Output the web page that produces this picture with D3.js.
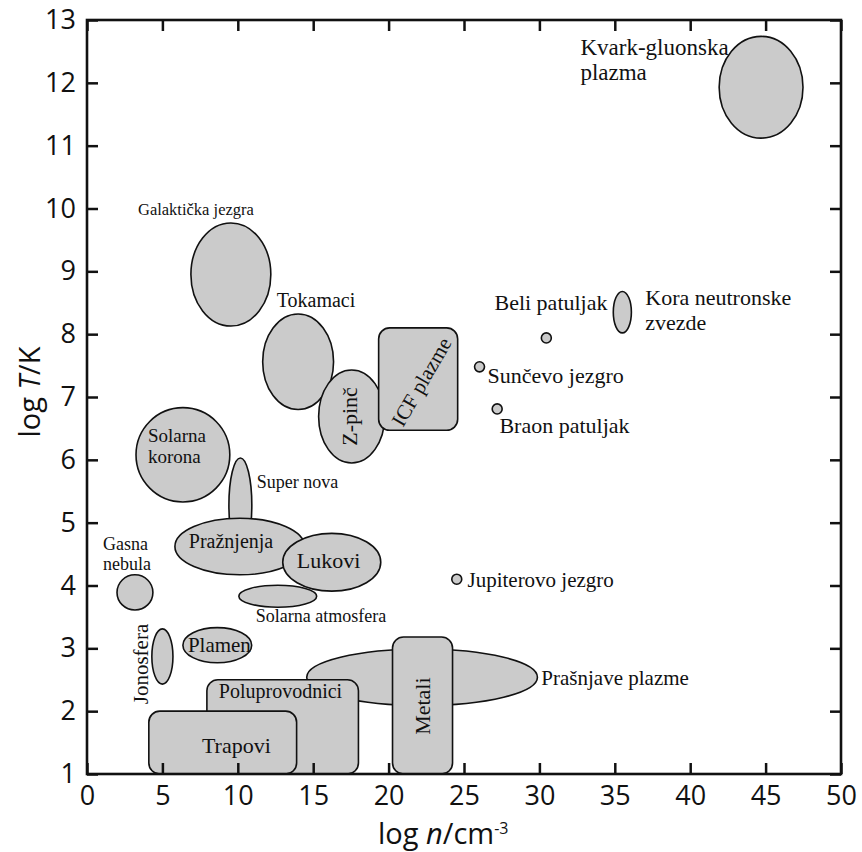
<!DOCTYPE html>
<html>
<head>
<meta charset="utf-8">
<script src="https://cdn.jsdelivr.net/npm/d3@7"></script>
<style>
  body { margin: 0; background: #fff; }
  .region { fill: #cbcbcb; stroke: #111; stroke-width: 1.6; }
  .lbl { font-family: "Liberation Serif", "Times New Roman", serif; fill: #111; }
  .tick text { font-family: "Open Sans", "Noto Sans", sans-serif; font-size: 27px; fill: #111; }
  .tick line { stroke: #111; stroke-width: 2.5; }
  .axis-title { font-family: "Open Sans", "Noto Sans", sans-serif; font-size: 29px; fill: #111; }
</style>
</head>
<body>
<div id="chart"></div>
<script>
// plasma regions: centre (log n, log T) and half extents, in data units
var regionNames = ["Kvark-gluonska plazma", "Galaktička jezgra", "Tokamaci", "Z-pinč", "ICF plazme",
                   "Solarna korona", "Super nova", "Pražnjenja", "Lukovi", "Solarna atmosfera",
                   "Gasna nebula", "Jonosfera", "Plamen", "Prašnjave plazme", "Poluprovodnici",
                   "Trapovi", "Metali", "Kora neutronske zvezde", "Beli patuljak", "Sunčevo jezgro",
                   "Braon patuljak", "Jupiterovo jezgro"];
var regionKind  = ["ellipse","ellipse","ellipse","ellipse","rect",
                   "ellipse","ellipse","ellipse","ellipse","ellipse",
                   "ellipse","ellipse","ellipse","ellipse","rect",
                   "rect","rect","ellipse","ellipse","ellipse",
                   "ellipse","ellipse"];
var regionN     = [44.7, 9.54, 14.0, 17.55, 21.96, 6.36, 10.17, 10.13, 16.23, 12.65,
                   3.18, 5.0, 8.64, 22.22, 12.975, 9.0, 22.25, 35.5, 30.46, 26.03, 27.2, 24.52];
var regionT     = [11.93, 8.95, 7.56, 6.69, 7.285, 6.08, 5.28, 4.62, 4.37, 3.83,
                   3.89, 2.87, 3.05, 2.54, 1.75, 1.5, 2.09, 8.35, 7.94, 7.48, 6.81, 4.10];
var regionHalfN = [2.78, 2.65, 2.35, 2.19, 2.62, 3.11, 0.76, 4.30, 3.25, 2.58,
                   1.19, 0.70, 2.28, 7.65, 5.025, 4.9, 1.99, 0.6, 0.33, 0.33, 0.33, 0.33];
var regionHalfT = [0.81, 0.82, 0.76, 0.74, 0.815, 0.75, 0.75, 0.45, 0.46, 0.175,
                   0.28, 0.44, 0.28, 0.45, 0.75, 0.5, 1.09, 0.33, 0.08, 0.08, 0.08, 0.08];

// labels: text lines and anchor (log n, log T)
var labelLines = [["Kvark-gluonska", "plazma"], ["Galaktička jezgra"], ["Tokamaci"], ["Z-pinč"],
                  ["ICF plazme"], ["Solarna", "korona"], ["Super nova"], ["Pražnjenja"], ["Lukovi"],
                  ["Gasna", "nebula"], ["Solarna atmosfera"], ["Jonosfera"], ["Plamen"],
                  ["Poluprovodnici"], ["Trapovi"], ["Metali"], ["Prašnjave plazme"],
                  ["Beli patuljak"], ["Kora neutronske", "zvezde"], ["Sunčevo jezgro"],
                  ["Braon patuljak"], ["Jupiterovo jezgro"]];
var labelN = [32.72, 3.38, 12.58, 17.88, 22.19, 4.04, 11.26, 6.75, 13.91, 1.06, 11.19, 4.04,
              6.69, 8.74, 7.62, 22.72, 30.13, 27.02, 37.02, 26.56, 27.35, 25.23];
var labelT = [12.44, 9.90, 8.43, 6.69, 7.24, 6.28, 5.55, 4.60, 4.28, 4.57, 3.42, 2.75,
              2.94, 2.21, 1.33, 2.08, 2.42, 8.38, 8.46, 7.22, 6.43, 3.98];

var xTicks = [0, 5, 10, 15, 20, 25, 30, 35, 40, 45, 50];
var yTicks = [1, 2, 3, 4, 5, 6, 7, 8, 9, 10, 11, 12, 13];

// label styling (size px, rotation deg, anchor)
var labelStyle = {
  "Kvark-gluonska": {size: 23, lh: 25},
  "Galaktička jezgra": {size: 16.5},
  "Tokamaci": {size: 20},
  "Solarna": {size: 19, lh: 21},
  "Super nova": {size: 18},
  "Z-pinč": {size: 22, rot: -90, anchor: "middle"},
  "ICF plazme": {size: 21, rot: -60, anchor: "middle", dy: "0.33em"},
  "Pražnjenja": {size: 20},
  "Lukovi": {size: 22},
  "Gasna": {size: 18, lh: 20},
  "Solarna atmosfera": {size: 18},
  "Jonosfera": {size: 21, rot: -90, anchor: "middle"},
  "Plamen": {size: 21},
  "Poluprovodnici": {size: 20},
  "Trapovi": {size: 22},
  "Metali": {size: 22, rot: -90, anchor: "middle"},
  "Prašnjave plazme": {size: 21},
  "Jupiterovo jezgro": {size: 21}
};

var full_w = 862, full_h = 852;
var margin = {top: 20, right: 21, bottom: 78, left: 87};
var width = full_w - margin.left - margin.right;
var height = full_h - margin.top - margin.bottom;

var svg = d3.select("#chart").append("svg")
    .attr("width", full_w)
    .attr("height", full_h)
  .append("g")
    .attr("transform", "translate(" + margin.left + "," + margin.top + ")");

var x = d3.scaleLinear().domain([0, 50]).range([0, width]);
var y = d3.scaleLinear().domain([1, 13]).range([height, 0]);

var regions = regionNames.map(function(name, i) {
  return {name: name, kind: regionKind[i], n: regionN[i], t: regionT[i], hn: regionHalfN[i], ht: regionHalfT[i]};
});

svg.append("g")
  .attr("class", "regions")
  .selectAll("path")
  .data(regions)
  .enter()
  .append("path")
  .attr("class", "region")
  .attr("d", function(d) {
    var x0 = x(d.n - d.hn), x1 = x(d.n + d.hn);
    var y0 = y(d.t + d.ht), y1 = y(d.t - d.ht);
    if (d.kind == "rect") {
      var r = 11, p = d3.path();
      p.moveTo(x0 + r, y0);
      p.lineTo(x1 - r, y0); p.arcTo(x1, y0, x1, y0 + r, r);
      p.lineTo(x1, y1 - r); p.arcTo(x1, y1, x1 - r, y1, r);
      p.lineTo(x0 + r, y1); p.arcTo(x0, y1, x0, y1 - r, r);
      p.lineTo(x0, y0 + r); p.arcTo(x0, y0, x0 + r, y0, r);
      p.closePath();
      return p.toString();
    }
    var cx = x(d.n), cy = y(d.t), rx = (x1 - x0) / 2, ry = (y1 - y0) / 2;
    return "M" + (cx - rx) + "," + cy +
           "A" + rx + "," + ry + " 0 1,0 " + (cx + rx) + "," + cy +
           "A" + rx + "," + ry + " 0 1,0 " + (cx - rx) + "," + cy + "Z";
  });

// labels
var labels = labelLines.map(function(lines, i) {
  return {lines: lines, n: labelN[i], t: labelT[i]};
});

labels.forEach(function(d) {
  var st = labelStyle[d.lines[0]] || {size: 22, lh: 25};
  var lh = st.lh || 25;
  var t = svg.append("text")
      .attr("class", "lbl")
      .attr("font-size", st.size + "px")
      .attr("text-anchor", st.anchor || "start")
      .attr("transform", "translate(" + x(d.n) + "," + y(d.t) + ")" + (st.rot ? " rotate(" + st.rot + ")" : ""));
  d.lines.forEach(function(line, k) {
    t.append("tspan")
      .attr("x", 0)
      .attr("y", k * lh)
      .attr("dy", st.dy || 0)
      .text(line);
  });
});

// axes, ticks pointing inward
svg.append("g")
  .attr("transform", "translate(0," + height + ")")
  .call(d3.axisBottom(x).tickValues(xTicks).tickSize(-11).tickPadding(12))
  .call(function(a) { a.select(".domain").remove(); });

svg.append("g")
  .call(d3.axisLeft(y).tickValues(yTicks).tickSize(-11).tickPadding(11))
  .call(function(a) { a.select(".domain").remove(); });

svg.append("g")
  .call(d3.axisTop(x).tickValues(xTicks).tickSize(-11).tickFormat(""))
  .call(function(a) { a.select(".domain").remove(); });

svg.append("g")
  .attr("transform", "translate(" + width + ",0)")
  .call(d3.axisRight(y).tickValues(yTicks).tickSize(-11).tickFormat(""))
  .call(function(a) { a.select(".domain").remove(); });

svg.append("rect")
  .attr("width", width)
  .attr("height", height)
  .attr("fill", "none")
  .attr("stroke", "#111")
  .attr("stroke-width", 2.6);

// axis titles
var xt = svg.append("text")
  .attr("class", "axis-title")
  .attr("x", 378 - margin.left)
  .attr("y", height + 70);
xt.append("tspan").text("log ");
xt.append("tspan").attr("font-style", "italic").text("n");
xt.append("tspan").text("/cm");
xt.append("tspan").attr("font-size", "16px").attr("dy", "-10").text("-3");

var yt = svg.append("text")
  .attr("class", "axis-title")
  .attr("text-anchor", "middle")
  .attr("transform", "translate(" + (40 - margin.left) + "," + (392 - margin.top) + ") rotate(-90)");
yt.append("tspan").text("log ");
yt.append("tspan").attr("font-style", "italic").text("T");
yt.append("tspan").text("/K");
</script>
</body>
</html>
